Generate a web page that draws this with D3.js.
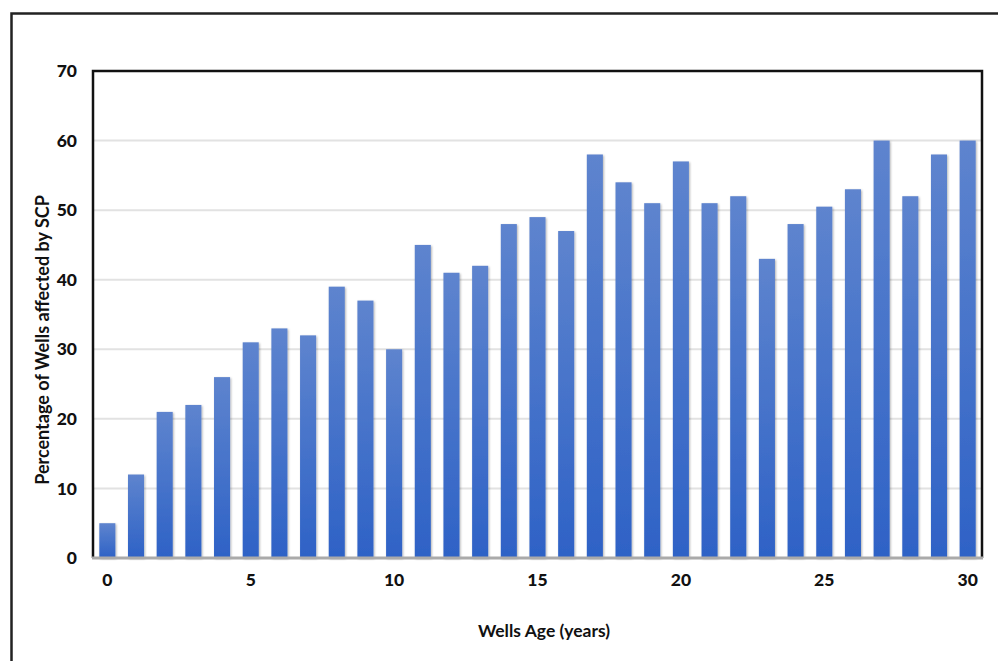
<!DOCTYPE html>
<html><head><meta charset="utf-8">
<script src="https://cdn.jsdelivr.net/npm/d3@7"></script>
<style>body{margin:0;background:#fff}svg{display:block}</style>
</head><body>
<svg id="c" width="998" height="661"></svg>
<script>
const ages = d3.range(0, 31);
const values = [5,12,21,22,26,31,33,32,39,37,30,45,41,42,48,49,47,58,54,51,57,51,52,43,48,50.5,53,60,52,58,60];
const yTicks = [0,10,20,30,40,50,60,70];
const xTickLabels = [0,5,10,15,20,25,30];

const svg = d3.select("#c");
const L = 93, R = 982, T = 71, B = 558;
const font = "Lato, 'Open Sans', sans-serif";

const defs = svg.append("defs");
const g = defs.append("linearGradient").attr("id","bg").attr("x1",0).attr("y1",0).attr("x2",0).attr("y2",1);
g.append("stop").attr("offset","0%").attr("stop-color","#5e84ce");
g.append("stop").attr("offset","100%").attr("stop-color","#2e62c6");
const f = defs.append("filter").attr("id","sh").attr("x","-30%").attr("y","-10%").attr("width","160%").attr("height","120%");
f.append("feDropShadow").attr("dx",1).attr("dy",1).attr("stdDeviation",1).attr("flood-color","#000").attr("flood-opacity",0.3);

// outer frame
svg.append("path").attr("d","M11.5,661 V13.5 H998").attr("fill","none").attr("stroke","#222").attr("stroke-width",2.5);

const x = d3.scaleBand().domain(ages).range([L, R]).paddingInner(0.44).paddingOuter(0.22);
const y = d3.scaleLinear().domain([0,70]).range([B, T]);

// gridlines
svg.append("g").selectAll("line").data(yTicks.filter(d=>d>0&&d<70)).join("line")
  .attr("x1",L).attr("x2",R).attr("y1",d=>y(d)).attr("y2",d=>y(d))
  .attr("stroke","#e2e2e2").attr("stroke-width",2);

// bars
svg.append("g").selectAll("rect").data(values).join("rect")
  .attr("x",(d,i)=>x(ages[i])).attr("width",x.bandwidth())
  .attr("y",d=>y(d)).attr("height",d=>B-y(d))
  .attr("fill","url(#bg)").attr("filter","url(#sh)");

// plot border
svg.append("path").attr("d",`M${L},${B} V${T} H${R} V${B}`).attr("fill","none").attr("stroke","#111").attr("stroke-width",2.5);
svg.append("line").attr("x1",L-1).attr("x2",R+1).attr("y1",B).attr("y2",B).attr("stroke","#aaa").attr("stroke-width",3);

// y axis labels
const ya = svg.append("g").attr("transform",`translate(${L},0)`)
  .call(d3.axisLeft(y).tickValues(yTicks).tickSize(0).tickPadding(16));
ya.select(".domain").remove();
ya.selectAll("text").attr("font-family",font).attr("font-weight","900").attr("font-size",17.5).attr("fill","#111");

// x axis labels
const xa = svg.append("g").attr("transform",`translate(0,${B})`)
  .call(d3.axisBottom(x).tickValues(xTickLabels).tickSize(0).tickPadding(16));
xa.select(".domain").remove();
xa.selectAll("text").attr("font-family",font).attr("font-weight","900").attr("font-size",17.5).attr("fill","#111");

svg.append("text").attr("x",544).attr("y",637).attr("text-anchor","middle")
  .attr("font-family",font).attr("font-weight","bold").attr("font-size",17.5).attr("fill","#111")
  .text("Wells Age (years)");
svg.append("text").attr("transform","translate(49,340) rotate(-90)").attr("text-anchor","middle")
  .attr("font-family",font).attr("font-weight","bold").attr("font-size",18).attr("fill","#111")
  .text("Percentage of Wells affected by SCP");
</script>
</body></html>
